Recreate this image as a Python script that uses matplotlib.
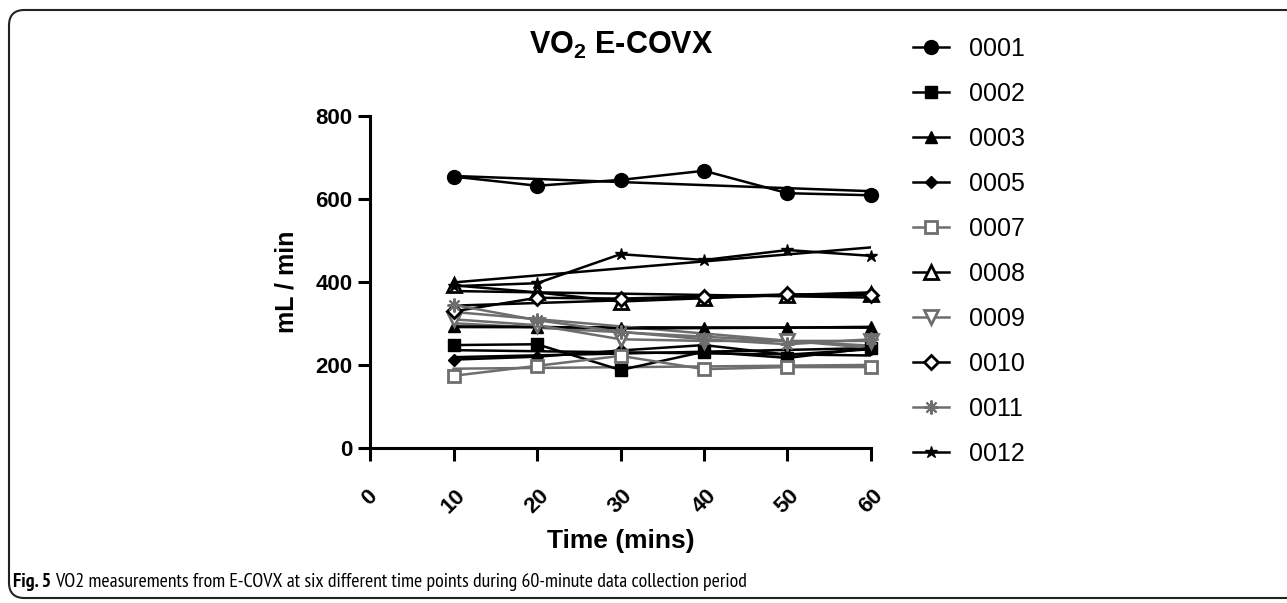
import numpy as np
import matplotlib
matplotlib.use("Agg")
import matplotlib.pyplot as plt
from matplotlib.patches import FancyBboxPatch

plt.rcParams['font.family'] = 'sans-serif'
plt.rcParams['font.sans-serif'] = ['Liberation Sans', 'DejaVu Sans']
plt.rcParams['mathtext.fontset'] = 'custom'
plt.rcParams['mathtext.rm'] = 'Liberation Sans'
plt.rcParams['mathtext.bf'] = 'Liberation Sans:bold'

# time points (mins)
times = [10, 20, 30, 40, 50, 60]

# VO2 per subject (mL / min)
subjects = ['0001', '0002', '0003', '0005', '0007',
            '0008', '0009', '0010', '0011', '0012']
vo2_0001 = [654, 632, 646, 668, 614, 609]
vo2_0002 = [248, 250, 188, 232, 217, 241]
vo2_0003 = [293, 292, 288, 289, 290, 292]
vo2_0005 = [213, 220, 235, 248, 225, 238]
vo2_0007 = [174, 198, 222, 190, 195, 195]
vo2_0008 = [392, 375, 353, 361, 369, 372]
vo2_0009 = [310, 296, 262, 258, 258, 258]
vo2_0010 = [329, 362, 360, 365, 370, 368]
vo2_0011 = [345, 308, 280, 262, 250, 262]
vo2_0012 = [390, 397, 467, 453, 477, 463]
all_vo2 = [vo2_0001, vo2_0002, vo2_0003, vo2_0005, vo2_0007,
           vo2_0008, vo2_0009, vo2_0010, vo2_0011, vo2_0012]

gray = '#6e6e6e'
styles = [
    dict(marker='o', color='k', mfc='k', ms=10),
    dict(marker='s', color='k', mfc='k', ms=9),
    dict(marker='^', color='k', mfc='k', ms=9),
    dict(marker='D', color='k', mfc='k', ms=6),
    dict(marker='s', color=gray, mfc='white', mec=gray, ms=9, mew=2),
    dict(marker='^', color='k', mfc='white', mec='k', ms=10, mew=2),
    dict(marker='v', color=gray, mfc='white', mec=gray, ms=10, mew=2),
    dict(marker='D', color='k', mfc='white', mec='k', ms=7, mew=2),
    dict(marker=(8, 2, 0), color=gray, mfc=gray, mec=gray, ms=10, mew=1.5),
    dict(marker='*', color='k', mfc='k', ms=9),
]

fig = plt.figure(figsize=(12.87, 6.03), dpi=100)
ax = fig.add_axes([370 / 1287, 1 - 448 / 603, (871 - 370) / 1287, (448 - 116) / 603])

t = np.array(times)
handles = []
for name, vals, st in zip(subjects, all_vo2, styles):
    h, = ax.plot(times, vals, lw=1.8, label=name, clip_on=False, zorder=3, **st)
    handles.append(h)
    # linear fit
    k, b = np.polyfit(t, vals, 1)
    ax.plot([t[0], t[-1]], [k * t[0] + b, k * t[-1] + b], color=st['color'], lw=1.8, zorder=2)

ax.set_xlim(0, 60)
ax.set_ylim(0, 800)
ax.set_xticks([0, 10, 20, 30, 40, 50, 60])
ax.set_yticks([0, 200, 400, 600, 800])
for s in ['top', 'right']:
    ax.spines[s].set_visible(False)
for s in ['left', 'bottom']:
    ax.spines[s].set_linewidth(2.2)
ax.tick_params(width=2.2, length=9, labelsize=16)
ax.tick_params(axis='x', pad=18)
for lab in ax.get_xticklabels() + ax.get_yticklabels():
    lab.set_fontweight('bold')
for lab in ax.get_xticklabels():
    lab.set_rotation(45)
    lab.set_ha('center')

ax.set_ylabel('mL / min', fontsize=18, fontweight='bold', labelpad=12)
ax.set_xlabel('Time (mins)', fontsize=19, fontweight='bold', labelpad=8)
fig.text(621 / 1287, 1 - 45 / 603, r'VO$_\mathbf{2}$ E-COVX', fontsize=22, fontweight='bold',
         ha='center', va='center')

fig.legend(handles=handles, loc='upper left', bbox_to_anchor=(913 / 1287, 1 - 37 / 603),
           frameon=False, fontsize=18, handlelength=1.45, handletextpad=0.8,
           labelspacing=0.84, borderaxespad=0, borderpad=0)

# caption
capfont = ['PT Sans Narrow', 'DejaVu Sans']
cap1 = fig.text(13 / 1287, 1 - 582 / 603, 'Fig. 5', fontsize=14.3, fontweight='bold',
                va='center', family=capfont)
r = fig.canvas.get_renderer()
bb = cap1.get_window_extent(r)
fig.text((bb.x1 + 4) / 1287, 1 - 582 / 603,
         'VO2 measurements from E-COVX at six different time points during 60-minute data collection period',
         fontsize=14.3, va='center', family=capfont)

# rounded frame
frame = FancyBboxPatch((9 / 1287, 5 / 603), 1.2, 1 - 15 / 603,
                       boxstyle='round,pad=0,rounding_size=0.012',
                       transform=fig.transFigure, fill=False, ec='#222222', lw=1.5,
                       mutation_aspect=1287 / 603)
fig.patches.append(frame)

fig.savefig('out.png', dpi=100)
